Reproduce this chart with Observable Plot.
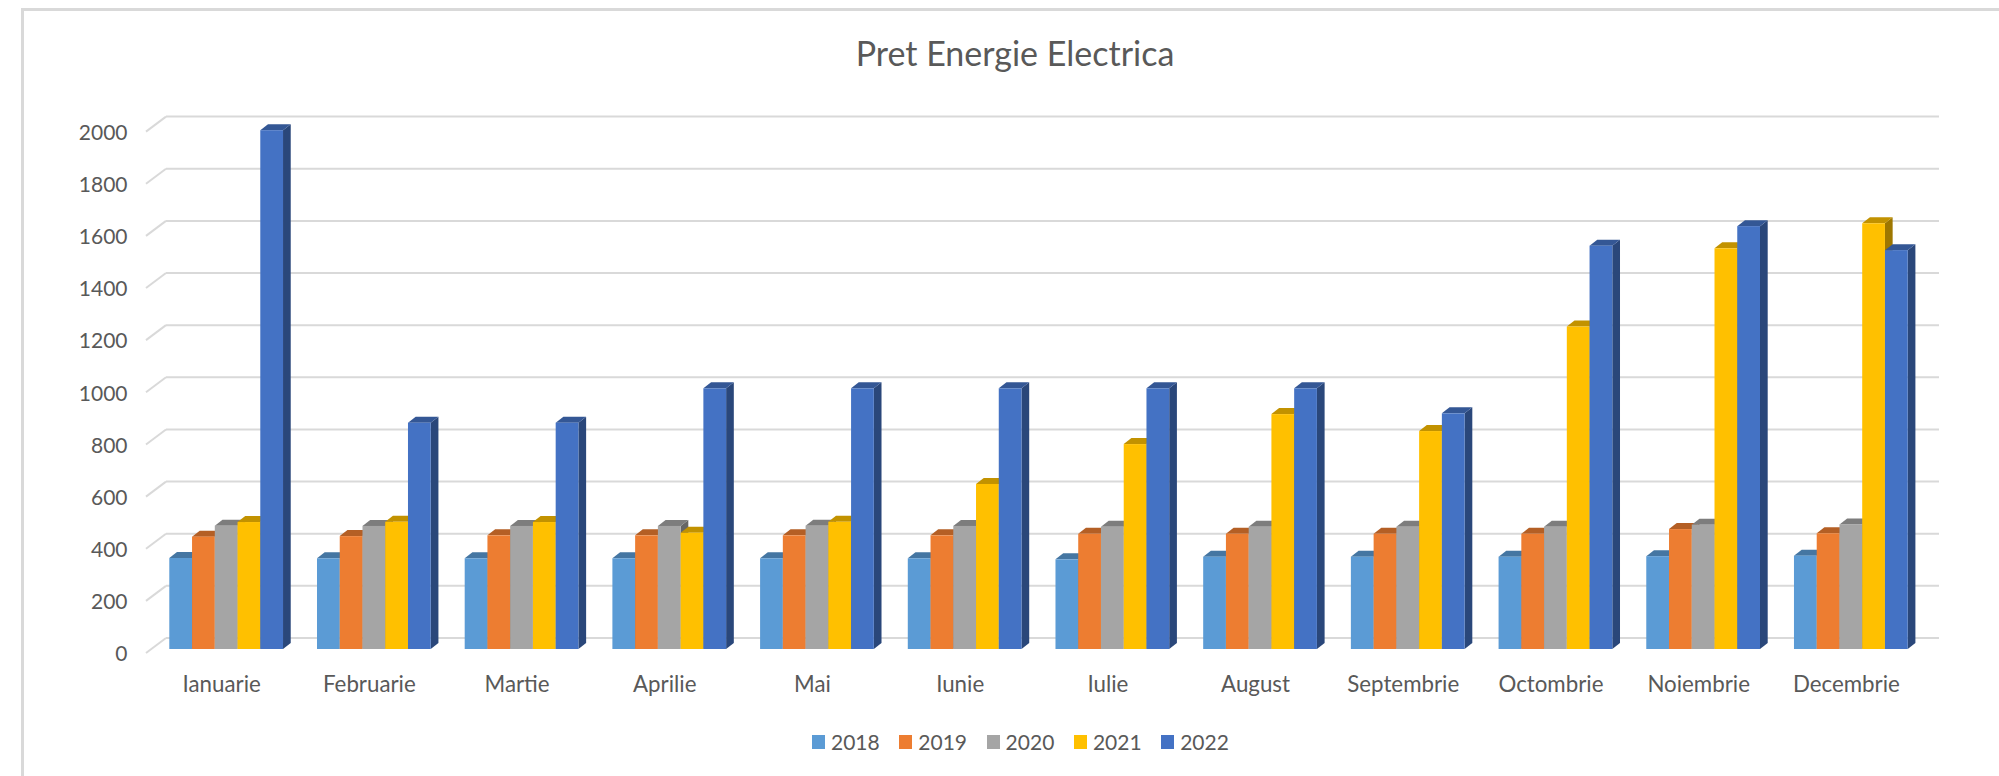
<!DOCTYPE html>
<html>
<head>
<meta charset="utf-8">
<script src="https://cdn.jsdelivr.net/npm/d3@7"></script>
<script src="https://cdn.jsdelivr.net/npm/@observablehq/plot@0.6"></script>
<style>
  html, body { margin: 0; padding: 0; background: #fff; overflow: hidden; }
  #chart { position: relative; width: 1999px; height: 776px; font-family: Lato, sans-serif; color: #595959; }
  #frame { position: absolute; left: 21px; top: 8px; right: 0; bottom: 0; border-top: 3px solid #d9d9d9; border-left: 3px solid #d9d9d9; }
  #title { position: absolute; left: 0; width: 2030px; top: 30px; text-align: center; font-size: 34px; line-height: 46px; }
  #plot { position: absolute; left: 0; top: 90px; }
  #legend { position: absolute; left: 812px; top: 727px; display: flex; font-size: 21px; line-height: 30px; }
  #legend .item { display: flex; align-items: center; width: 87.3px; }
  #legend .swatch { width: 13px; height: 13.5px; margin-right: 6px; }
  svg text { font-family: Lato, sans-serif; }
</style>
</head>
<body>
<div id="chart">
  <div id="frame"></div>
  <div id="title">Pret Energie Electrica</div>
  <div id="plot"></div>
  <div id="legend"></div>
</div>
<script>
const months = ["Ianuarie","Februarie","Martie","Aprilie","Mai","Iunie","Iulie","August","Septembrie","Octombrie","Noiembrie","Decembrie"];
const years = ["2018","2019","2020","2021","2022"];
const colors = ["#5b9bd5","#ed7d31","#a5a5a5","#ffc000","#4472c4"];
const yTicks = [0,200,400,600,800,1000,1200,1400,1600,1800,2000];
const v2018 = [349,348,348,348,348,348,344,354,354,354,356,358];
const v2019 = [431,433,436,436,436,436,442,442,442,442,460,444];
const v2020 = [473,472,472,472,473,472,469,469,469,469,477,478];
const v2021 = [487,488,487,446,488,633,786,901,836,1237,1537,1633];
const v2022 = [1990,868,868,1000,1000,1000,1000,1000,904,1547,1622,1530];
const series = [v2018,v2019,v2020,v2021,v2022];

const rows = years.flatMap((year,i) => months.map((month,j) => ({month, year, value: series[i][j]})));
const shade = (c,k) => { const r = d3.rgb(c); return d3.rgb(r.r*k, r.g*k, r.b*k).formatHex(); };

const depthX = 7.7, depthY = 6;
const NS = "http://www.w3.org/2000/svg";

// adds the top and side faces of each bar, read back from the drawn front face
function extrude(index, scales, values, dimensions, context, next) {
  const g = next(index, scales, values, dimensions, context);
  g.querySelectorAll("rect").forEach(rect => {
    const x0 = +rect.getAttribute("x"), w = +rect.getAttribute("width");
    const y0 = +rect.getAttribute("y"), h = +rect.getAttribute("height");
    const x1 = x0 + w, yb = y0 + h;
    const fill = rect.getAttribute("fill");
    const face = (pts, c) => {
      const p = document.createElementNS(NS, "polygon");
      p.setAttribute("points", pts.map(d => d.join(",")).join(" "));
      p.setAttribute("fill", c);
      rect.parentNode.insertBefore(p, rect);
    };
    face([[x1,y0],[x1+depthX,y0-depthY],[x1+depthX,yb-depthY],[x1,yb]], shade(fill,0.62));
    face([[x0,y0],[x0+depthX,y0-depthY],[x1+depthX,y0-depthY],[x1,y0]], shade(fill,0.76));
  });
  return g;
}

// back-wall gridlines with their slanted floor segments, placed by the y scale
function gridlines(index, scales, values, dimensions, context, next) {
  const g = document.createElementNS(NS, "g");
  const left = dimensions.marginLeft, right = dimensions.width - dimensions.marginRight;
  const line = (x1,y1,x2,y2) => {
    const l = document.createElementNS(NS, "line");
    l.setAttribute("x1", x1); l.setAttribute("y1", y1);
    l.setAttribute("x2", x2); l.setAttribute("y2", y2);
    l.setAttribute("stroke", "#d9d9d9");
    l.setAttribute("stroke-width", 2);
    g.appendChild(l);
  };
  for (const t of yTicks) {
    const y = scales.y(t);
    line(left - 23.3, y + 4, left - 3.3, y - 11);
    line(left - 3.3, y - 11, right + 31.3, y - 11);
  }
  return g;
}

const chart = Plot.plot({
  width: 1999,
  height: 610,
  marginLeft: 169.3,
  marginRight: 91.3,
  marginTop: 37.6,
  marginBottom: 51,
  style: {background: "transparent", color: "#595959", fontFamily: "Lato, sans-serif"},
  fx: {domain: months, padding: 0.23, round: false, label: null},
  x: {domain: years, padding: 0, round: false, axis: null},
  y: {domain: [0,2000], label: null},
  color: {domain: years, range: colors},
  marks: [
    Plot.frame({stroke: "none", fill: "none", facet: "super", render: gridlines}),
    Plot.axisY({ticks: yTicks, tickFormat: d => String(d), tickSize: 0, tickPadding: 42.3, dy: 5, fontSize: 21, label: null}),
    Plot.axisFx({anchor: "bottom", tickSize: 0, tickPadding: 26.5, dx: -5, fontSize: 22.3, label: null}),
    Plot.barY(rows, {fx: "month", x: "year", y: "value", fill: "year", render: extrude})
  ]
});
document.getElementById("plot").appendChild(chart);

const legend = d3.select("#legend");
years.forEach((y,i) => {
  const item = legend.append("div").attr("class","item");
  item.append("div").attr("class","swatch").style("background", colors[i]);
  item.append("span").text(y);
});
</script>
</body>
</html>
